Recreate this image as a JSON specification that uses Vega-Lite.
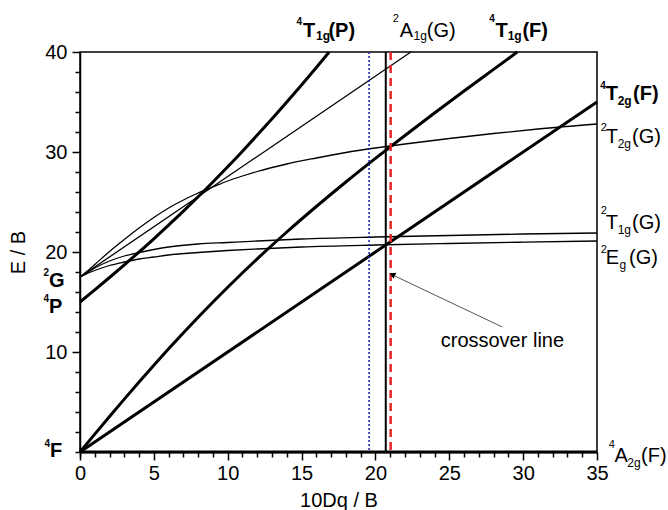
{
  "$schema": "https://vega.github.io/schema/vega-lite/v6.json",
  "width": 517,
  "height": 400,
  "autosize": {"type": "none"},
  "padding": {"left": 80, "top": 52, "right": 71, "bottom": 58},
  "config": {
    "font": "Liberation Sans",
    "view": {"stroke": "black", "strokeWidth": 1.5},
    "axis": {"grid": false},
    "text": {"font": "Liberation Sans", "color": "black", "align": "left", "baseline": "alphabetic"}
  },
  "resolve": {"axis": {"x": "independent", "y": "independent"}},
  "datasets": {
    "curves": [
      {"state": "4A2g", "spin": "quartet", "x": 0, "y": 0},
      {"state": "4A2g", "spin": "quartet", "x": 35, "y": 0},
      {"state": "4T2g", "spin": "quartet", "x": 0, "y": 0},
      {"state": "4T2g", "spin": "quartet", "x": 35, "y": 35},
      {"state": "4T1gF", "spin": "quartet", "x": 0, "y": 0},
      {"state": "4T1gF", "spin": "quartet", "x": 1, "y": 1.79},
      {"state": "4T1gF", "spin": "quartet", "x": 2, "y": 3.55},
      {"state": "4T1gF", "spin": "quartet", "x": 3, "y": 5.29},
      {"state": "4T1gF", "spin": "quartet", "x": 4, "y": 7.0},
      {"state": "4T1gF", "spin": "quartet", "x": 5, "y": 8.68},
      {"state": "4T1gF", "spin": "quartet", "x": 6, "y": 10.32},
      {"state": "4T1gF", "spin": "quartet", "x": 8, "y": 13.48},
      {"state": "4T1gF", "spin": "quartet", "x": 10, "y": 16.48},
      {"state": "4T1gF", "spin": "quartet", "x": 12, "y": 19.32},
      {"state": "4T1gF", "spin": "quartet", "x": 14, "y": 22.0},
      {"state": "4T1gF", "spin": "quartet", "x": 16, "y": 24.55},
      {"state": "4T1gF", "spin": "quartet", "x": 18, "y": 27.0},
      {"state": "4T1gF", "spin": "quartet", "x": 20, "y": 29.36},
      {"state": "4T1gF", "spin": "quartet", "x": 22, "y": 31.65},
      {"state": "4T1gF", "spin": "quartet", "x": 24, "y": 33.9},
      {"state": "4T1gF", "spin": "quartet", "x": 26, "y": 36.1},
      {"state": "4T1gF", "spin": "quartet", "x": 28, "y": 38.26},
      {"state": "4T1gF", "spin": "quartet", "x": 29.6, "y": 40},
      {"state": "4T1gP", "spin": "quartet", "x": 0, "y": 15},
      {"state": "4T1gP", "spin": "quartet", "x": 1, "y": 16.21},
      {"state": "4T1gP", "spin": "quartet", "x": 2, "y": 17.45},
      {"state": "4T1gP", "spin": "quartet", "x": 3, "y": 18.71},
      {"state": "4T1gP", "spin": "quartet", "x": 4, "y": 20.0},
      {"state": "4T1gP", "spin": "quartet", "x": 5, "y": 21.32},
      {"state": "4T1gP", "spin": "quartet", "x": 6, "y": 22.69},
      {"state": "4T1gP", "spin": "quartet", "x": 7, "y": 24.08},
      {"state": "4T1gP", "spin": "quartet", "x": 8, "y": 25.52},
      {"state": "4T1gP", "spin": "quartet", "x": 9, "y": 27.0},
      {"state": "4T1gP", "spin": "quartet", "x": 10, "y": 28.52},
      {"state": "4T1gP", "spin": "quartet", "x": 11, "y": 30.08},
      {"state": "4T1gP", "spin": "quartet", "x": 12, "y": 31.69},
      {"state": "4T1gP", "spin": "quartet", "x": 13, "y": 33.32},
      {"state": "4T1gP", "spin": "quartet", "x": 14, "y": 35.0},
      {"state": "4T1gP", "spin": "quartet", "x": 15, "y": 36.71},
      {"state": "4T1gP", "spin": "quartet", "x": 16, "y": 38.45},
      {"state": "4T1gP", "spin": "quartet", "x": 16.87, "y": 40},
      {"state": "2A1g", "spin": "doublet", "x": 0, "y": 17.5},
      {"state": "2A1g", "spin": "doublet", "x": 22.4, "y": 40},
      {"state": "2T2g", "spin": "doublet", "x": 0, "y": 17.5},
      {"state": "2T2g", "spin": "doublet", "x": 0.5, "y": 18.1},
      {"state": "2T2g", "spin": "doublet", "x": 1, "y": 18.75},
      {"state": "2T2g", "spin": "doublet", "x": 2, "y": 20.05},
      {"state": "2T2g", "spin": "doublet", "x": 3, "y": 21.25},
      {"state": "2T2g", "spin": "doublet", "x": 4, "y": 22.4},
      {"state": "2T2g", "spin": "doublet", "x": 5, "y": 23.45},
      {"state": "2T2g", "spin": "doublet", "x": 6, "y": 24.4},
      {"state": "2T2g", "spin": "doublet", "x": 7, "y": 25.2},
      {"state": "2T2g", "spin": "doublet", "x": 8, "y": 25.9},
      {"state": "2T2g", "spin": "doublet", "x": 9, "y": 26.5},
      {"state": "2T2g", "spin": "doublet", "x": 10, "y": 27.1},
      {"state": "2T2g", "spin": "doublet", "x": 11, "y": 27.6},
      {"state": "2T2g", "spin": "doublet", "x": 12, "y": 28.05},
      {"state": "2T2g", "spin": "doublet", "x": 14, "y": 28.8},
      {"state": "2T2g", "spin": "doublet", "x": 16, "y": 29.4},
      {"state": "2T2g", "spin": "doublet", "x": 18, "y": 29.95},
      {"state": "2T2g", "spin": "doublet", "x": 20, "y": 30.4},
      {"state": "2T2g", "spin": "doublet", "x": 22, "y": 30.8},
      {"state": "2T2g", "spin": "doublet", "x": 25, "y": 31.35},
      {"state": "2T2g", "spin": "doublet", "x": 28, "y": 31.85},
      {"state": "2T2g", "spin": "doublet", "x": 31, "y": 32.3},
      {"state": "2T2g", "spin": "doublet", "x": 35, "y": 32.8},
      {"state": "2T1g", "spin": "doublet", "x": 0, "y": 17.5},
      {"state": "2T1g", "spin": "doublet", "x": 0.5, "y": 17.95},
      {"state": "2T1g", "spin": "doublet", "x": 1, "y": 18.4},
      {"state": "2T1g", "spin": "doublet", "x": 2, "y": 19.1},
      {"state": "2T1g", "spin": "doublet", "x": 3, "y": 19.6},
      {"state": "2T1g", "spin": "doublet", "x": 4, "y": 19.95},
      {"state": "2T1g", "spin": "doublet", "x": 5, "y": 20.25},
      {"state": "2T1g", "spin": "doublet", "x": 6, "y": 20.5},
      {"state": "2T1g", "spin": "doublet", "x": 8, "y": 20.8},
      {"state": "2T1g", "spin": "doublet", "x": 10, "y": 20.95},
      {"state": "2T1g", "spin": "doublet", "x": 12, "y": 21.1},
      {"state": "2T1g", "spin": "doublet", "x": 15, "y": 21.3},
      {"state": "2T1g", "spin": "doublet", "x": 20, "y": 21.5},
      {"state": "2T1g", "spin": "doublet", "x": 25, "y": 21.65},
      {"state": "2T1g", "spin": "doublet", "x": 30, "y": 21.8},
      {"state": "2T1g", "spin": "doublet", "x": 35, "y": 21.9},
      {"state": "2Eg", "spin": "doublet", "x": 0, "y": 17.5},
      {"state": "2Eg", "spin": "doublet", "x": 0.5, "y": 17.85},
      {"state": "2Eg", "spin": "doublet", "x": 1, "y": 18.15},
      {"state": "2Eg", "spin": "doublet", "x": 2, "y": 18.65},
      {"state": "2Eg", "spin": "doublet", "x": 3, "y": 19.0},
      {"state": "2Eg", "spin": "doublet", "x": 4, "y": 19.3},
      {"state": "2Eg", "spin": "doublet", "x": 5, "y": 19.5},
      {"state": "2Eg", "spin": "doublet", "x": 6, "y": 19.7},
      {"state": "2Eg", "spin": "doublet", "x": 8, "y": 19.95},
      {"state": "2Eg", "spin": "doublet", "x": 10, "y": 20.15},
      {"state": "2Eg", "spin": "doublet", "x": 12, "y": 20.3},
      {"state": "2Eg", "spin": "doublet", "x": 15, "y": 20.5},
      {"state": "2Eg", "spin": "doublet", "x": 20, "y": 20.7},
      {"state": "2Eg", "spin": "doublet", "x": 25, "y": 20.85},
      {"state": "2Eg", "spin": "doublet", "x": 30, "y": 20.98},
      {"state": "2Eg", "spin": "doublet", "x": 35, "y": 21.1}
    ],
    "labels": [
      {"t": "4", "role": "sup", "bold": true, "x": 14.66, "y": 42.67},
      {"t": "T", "role": "main", "bold": true, "x": 15.10, "y": 41.47},
      {"t": "1g", "role": "sub", "bold": true, "x": 15.98, "y": 41.17},
      {"t": "(P)", "role": "main", "bold": true, "x": 16.82, "y": 41.47},
      {"t": "2", "role": "sup", "bold": false, "x": 21.18, "y": 42.97},
      {"t": "A", "role": "main", "bold": false, "x": 21.64, "y": 41.47},
      {"t": "1g", "role": "sub", "bold": false, "x": 22.58, "y": 41.17},
      {"t": "(G)", "role": "main", "bold": false, "x": 23.48, "y": 41.47},
      {"t": "4", "role": "sup", "bold": true, "x": 27.70, "y": 42.97},
      {"t": "T", "role": "main", "bold": true, "x": 28.13, "y": 41.47},
      {"t": "1g", "role": "sub", "bold": true, "x": 28.95, "y": 41.17},
      {"t": "(F)", "role": "main", "bold": true, "x": 29.95, "y": 41.47},
      {"t": "4", "role": "sup", "bold": true, "x": 35.22, "y": 36.27},
      {"t": "T", "role": "main", "bold": true, "x": 35.60, "y": 35.17},
      {"t": "2g", "role": "sub", "bold": true, "x": 36.40, "y": 34.67},
      {"t": "(F)", "role": "main", "bold": true, "x": 37.44, "y": 35.17},
      {"t": "2", "role": "sup", "bold": false, "x": 35.25, "y": 32.07},
      {"t": "T", "role": "main", "bold": false, "x": 35.60, "y": 30.87},
      {"t": "2g", "role": "sub", "bold": false, "x": 36.40, "y": 30.37},
      {"t": "(G)", "role": "main", "bold": false, "x": 37.37, "y": 30.87},
      {"t": "2", "role": "sup", "bold": false, "x": 35.25, "y": 23.77},
      {"t": "T", "role": "main", "bold": false, "x": 35.60, "y": 22.27},
      {"t": "1g", "role": "sub", "bold": false, "x": 36.40, "y": 21.77},
      {"t": "(G)", "role": "main", "bold": false, "x": 37.37, "y": 22.27},
      {"t": "2", "role": "sup", "bold": false, "x": 35.25, "y": 19.87},
      {"t": "E", "role": "main", "bold": false, "x": 35.60, "y": 18.77},
      {"t": "g", "role": "sub", "bold": false, "x": 36.52, "y": 18.27},
      {"t": "(G)", "role": "main", "bold": false, "x": 37.17, "y": 18.77},
      {"t": "4", "role": "sup", "bold": false, "x": 35.80, "y": 0.37},
      {"t": "A", "role": "main", "bold": false, "x": 36.18, "y": -1.03},
      {"t": "2g", "role": "sub", "bold": false, "x": 37.05, "y": -1.53},
      {"t": "(F)", "role": "main", "bold": false, "x": 37.98, "y": -1.03},
      {"t": "2", "role": "sup", "bold": true, "x": -2.47, "y": 17.57},
      {"t": "G", "role": "main", "bold": true, "x": -2.10, "y": 16.47},
      {"t": "4", "role": "sup", "bold": true, "x": -2.47, "y": 14.97},
      {"t": "P", "role": "main", "bold": true, "x": -2.10, "y": 13.87},
      {"t": "4", "role": "sup", "bold": true, "x": -2.40, "y": 0.47},
      {"t": "F", "role": "main", "bold": true, "x": -2.03, "y": -0.53},
      {"t": "crossover line", "role": "main", "bold": false, "x": 24.42, "y": 10.5}
    ]
  },
  "layer": [
    {
      "data": {"name": "curves"},
      "mark": {"type": "line", "color": "black", "interpolate": "monotone"},
      "encoding": {
        "x": {
          "field": "x", "type": "quantitative",
          "scale": {"domain": [0, 35], "nice": false},
          "axis": {
            "orient": "bottom",
            "values": [0, 5, 10, 15, 20, 25, 30, 35],
            "tickSize": 8,
            "labelFontSize": 20, "labelColor": "black", "labelPadding": 3,
            "labelFlush": false, "labelBound": false,
            "tickColor": "black", "tickWidth": 1.5,
            "domainColor": "black", "domainWidth": 1.5,
            "title": "10Dq / B", "titleFontSize": 20, "titleFontWeight": "normal", "titleColor": "black", "titlePadding": 7
          }
        },
        "y": {
          "field": "y", "type": "quantitative",
          "scale": {"domain": [0, 40], "nice": false},
          "axis": {
            "orient": "left",
            "values": [10, 20, 30, 40],
            "tickSize": 8,
            "labelFontSize": 20, "labelColor": "black", "labelPadding": 5,
            "labelFlush": false, "labelBound": false,
            "tickColor": "black", "tickWidth": 1.5,
            "domainColor": "black", "domainWidth": 1.5,
            "title": "E / B", "titleFontSize": 20, "titleFontWeight": "normal", "titleColor": "black", "titlePadding": 16
          }
        },
        "detail": {"field": "state", "type": "nominal"},
        "strokeWidth": {"field": "spin", "type": "nominal", "scale": {"domain": ["quartet", "doublet"], "range": [3, 1.3]}, "legend": null}
      }
    },
    {
      "data": {"values": [{"x": 28.59, "y": 12.5, "x2": 21.1, "y2": 17.75}]},
      "mark": {"type": "rule", "color": "#555555", "strokeWidth": 1},
      "encoding": {
        "x": {
          "field": "x", "type": "quantitative",
          "axis": {
            "orient": "bottom",
            "values": [0,1,2,3,4,6,7,8,9,11,12,13,14,16,17,18,19,21,22,23,24,26,27,28,29,31,32,33,34],
            "tickSize": 5, "tickColor": "black", "tickWidth": 1.5,
            "labels": false, "domain": false, "title": null
          }
        },
        "y": {
          "field": "y", "type": "quantitative",
          "axis": {
            "orient": "left",
            "values": [0,2,4,6,8,12,14,16,18,22,24,26,28,32,34,36,38],
            "tickSize": 5, "tickColor": "black", "tickWidth": 1.5,
            "labels": false, "domain": false, "title": null
          }
        },
        "x2": {"field": "x2"},
        "y2": {"field": "y2"}
      }
    },
    {
      "data": {"values": [{"x": 19.57}]},
      "mark": {"type": "rule", "color": "#1a1aa8", "strokeWidth": 1.5, "strokeDash": [2, 2]},
      "encoding": {"x": {"field": "x", "type": "quantitative", "axis": null}}
    },
    {
      "data": {"values": [{"x": 20.7}]},
      "mark": {"type": "rule", "color": "black", "strokeWidth": 2},
      "encoding": {"x": {"field": "x", "type": "quantitative", "axis": null}}
    },
    {
      "data": {"values": [{"x": 21.03}]},
      "mark": {"type": "rule", "color": "#e8262a", "strokeWidth": 2.5, "strokeDash": [8, 5]},
      "encoding": {"x": {"field": "x", "type": "quantitative", "axis": null}}
    },
    {
      "data": {"values": [{"x": 21.2, "y": 17.7}]},
      "mark": {"type": "point", "shape": "triangle", "filled": true, "color": "black", "size": 45, "angle": 296, "opacity": 1},
      "encoding": {
        "x": {"field": "x", "type": "quantitative", "axis": null},
        "y": {"field": "y", "type": "quantitative", "axis": null}
      }
    },
    {
      "data": {"name": "labels"},
      "transform": [{"filter": "datum.role === 'main' && datum.bold"}],
      "mark": {"type": "text", "fontSize": 20, "fontWeight": "bold"},
      "encoding": {"x": {"field": "x", "type": "quantitative", "axis": null}, "y": {"field": "y", "type": "quantitative", "axis": null}, "text": {"field": "t"}}
    },
    {
      "data": {"name": "labels"},
      "transform": [{"filter": "datum.role === 'main' && !datum.bold"}],
      "mark": {"type": "text", "fontSize": 20, "fontWeight": "normal"},
      "encoding": {"x": {"field": "x", "type": "quantitative", "axis": null}, "y": {"field": "y", "type": "quantitative", "axis": null}, "text": {"field": "t"}}
    },
    {
      "data": {"name": "labels"},
      "transform": [{"filter": "datum.role === 'sup' && datum.bold"}],
      "mark": {"type": "text", "fontSize": 10, "fontWeight": "bold"},
      "encoding": {"x": {"field": "x", "type": "quantitative", "axis": null}, "y": {"field": "y", "type": "quantitative", "axis": null}, "text": {"field": "t"}}
    },
    {
      "data": {"name": "labels"},
      "transform": [{"filter": "datum.role === 'sup' && !datum.bold"}],
      "mark": {"type": "text", "fontSize": 11, "fontWeight": "normal"},
      "encoding": {"x": {"field": "x", "type": "quantitative", "axis": null}, "y": {"field": "y", "type": "quantitative", "axis": null}, "text": {"field": "t"}}
    },
    {
      "data": {"name": "labels"},
      "transform": [{"filter": "datum.role === 'sub' && datum.bold"}],
      "mark": {"type": "text", "fontSize": 12, "fontWeight": "bold"},
      "encoding": {"x": {"field": "x", "type": "quantitative", "axis": null}, "y": {"field": "y", "type": "quantitative", "axis": null}, "text": {"field": "t"}}
    },
    {
      "data": {"name": "labels"},
      "transform": [{"filter": "datum.role === 'sub' && !datum.bold"}],
      "mark": {"type": "text", "fontSize": 12, "fontWeight": "normal"},
      "encoding": {"x": {"field": "x", "type": "quantitative", "axis": null}, "y": {"field": "y", "type": "quantitative", "axis": null}, "text": {"field": "t"}}
    }
  ]
}
